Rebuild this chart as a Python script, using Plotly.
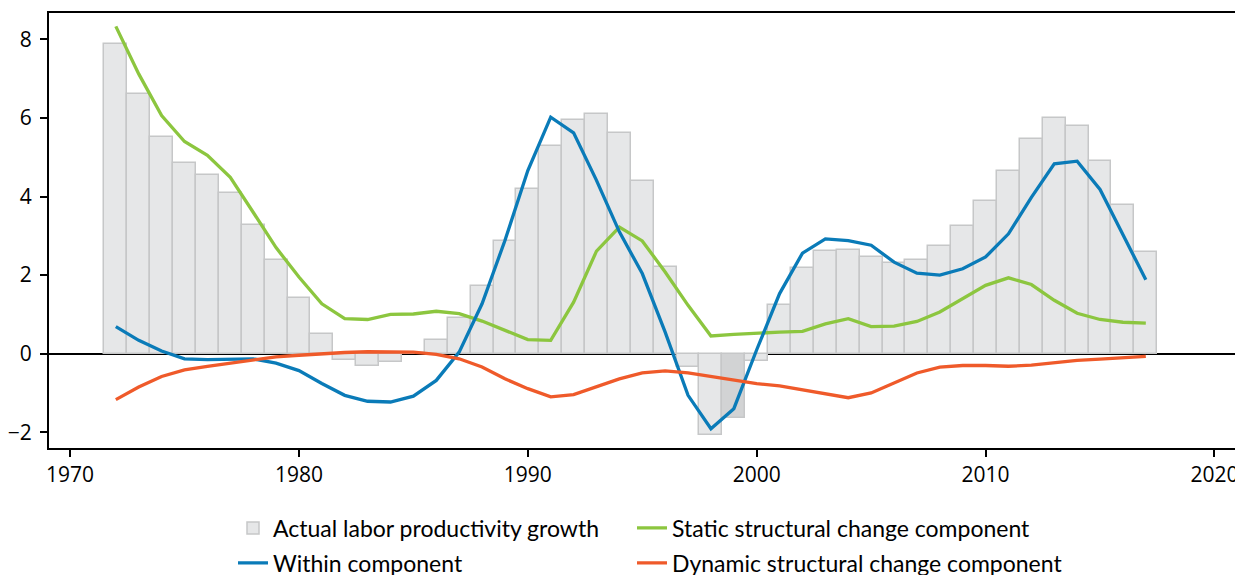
import plotly.graph_objects as go

years = list(range(1972, 2018))

actual = [7.87, 6.60, 5.51, 4.86, 4.56, 4.10, 3.27, 2.38, 1.43, 0.50,
          -0.16, -0.32, -0.20, 0.03, 0.36, 0.92, 1.72, 2.88, 4.18, 5.28,
          5.95, 6.09, 5.61, 4.40, 2.20, -0.33, -2.06, -1.63, -0.18, 1.25,
          2.19, 2.61, 2.65, 2.46, 2.30, 2.38, 2.74, 3.26, 3.89, 4.66,
          5.46, 6.00, 5.79, 4.90, 3.78, 2.59]

within = [0.69, 0.34, 0.07, -0.13, -0.15, -0.13, -0.13, -0.24, -0.43, -0.76,
          -1.06, -1.21, -1.23, -1.08, -0.68, 0.04, 1.27, 2.88, 4.66, 6.02,
          5.62, 4.41, 3.10, 2.04, 0.55, -1.06, -1.91, -1.40, 0.10, 1.53,
          2.56, 2.92, 2.88, 2.76, 2.33, 2.05, 2.00, 2.16, 2.46, 3.05,
          3.98, 4.83, 4.90, 4.18, 3.05, 1.88]

static = [8.33, 7.12, 6.06, 5.40, 5.05, 4.49, 3.60, 2.70, 1.95, 1.27,
          0.89, 0.87, 1.00, 1.01, 1.08, 1.02, 0.83, 0.59, 0.36, 0.34,
          1.31, 2.61, 3.22, 2.87, 2.08, 1.23, 0.45, 0.49, 0.53, 0.55,
          0.57, 0.76, 0.89, 0.69, 0.70, 0.82, 1.06, 1.40, 1.74, 1.93,
          1.76, 1.36, 1.03, 0.87, 0.80, 0.78]

dynamic = [-1.17, -0.85, -0.58, -0.41, -0.32, -0.24, -0.15, -0.08, -0.04, 0.00,
           0.03, 0.05, 0.05, 0.04, -0.02, -0.13, -0.34, -0.64, -0.89, -1.10,
           -1.04, -0.83, -0.64, -0.49, -0.44, -0.49, -0.58, -0.66, -0.76, -0.82,
           -0.92, -1.04, -1.12, -1.00, -0.75, -0.49, -0.34, -0.30, -0.30, -0.32,
           -0.29, -0.23, -0.17, -0.14, -0.10, -0.07]

highlight_year = 1999
x_ticks = [1970, 1980, 1990, 2000, 2010, 2020]
y_ticks = [-2, 0, 2, 4, 6, 8]

bar_colors = ["#d2d3d4" if y == highlight_year else "#e6e7e8" for y in years]

fig = go.Figure()
fig.add_trace(go.Bar(x=years, y=actual, name="Actual labor productivity growth",
                     marker=dict(color=bar_colors, line=dict(color="#c6c7c8", width=1.5)),
                     width=1.0, legend="legend"))
fig.add_trace(go.Scatter(x=years, y=static, mode="lines", name="Static structural change component",
                         line=dict(color="#8cc63f", width=3.3), legend="legend2"))
fig.add_trace(go.Scatter(x=years, y=within, mode="lines", name="Within component",
                         line=dict(color="#0a7bb8", width=3.3), legend="legend3"))
fig.add_trace(go.Scatter(x=years, y=dynamic, mode="lines", name="Dynamic structural change component",
                         line=dict(color="#ef5a2a", width=3.3), legend="legend4"))

axis_common = dict(showline=True, linecolor="black", linewidth=2, mirror=True,
                   ticks="outside", ticklen=7, tickwidth=1.5, tickcolor="black",
                   showgrid=False, automargin=False,
                   tickfont=dict(family="Open Sans", size=21, color="black"))

W, H = 1235, 567
L, T, PW, PH = 41, 5, 1187, 435

leg_font = dict(family="Lato", size=23, color="black")
def leg(px, py):
    # px, py: figure pixel position of the legend's left edge / vertical middle
    return dict(x=(px - L) / PW, y=(T + PH - py) / PH, xref="paper", yref="paper",
                xanchor="left", yanchor="middle",
                font=leg_font, bgcolor="rgba(0,0,0,0)", itemwidth=30, borderwidth=0)

fig.update_layout(
    width=W, height=H,
    margin=dict(l=L, r=W - L - PW, t=T, b=H - T - PH, autoexpand=False),
    plot_bgcolor="white", paper_bgcolor="white",
    bargap=0,
    showlegend=True,
    legend=leg(225, 520),
    legend2=leg(624, 520),
    legend3=leg(225, 555),
    legend4=leg(624, 555),
    xaxis=dict(range=[1969.08, 2020.94], tickvals=x_ticks, zeroline=False, **axis_common),
    yaxis=dict(range=[-2.4, 8.67], tickvals=y_ticks, zeroline=True, zerolinecolor="black",
               zerolinewidth=1.5, tickformat="d", **axis_common),
)
fig.update_yaxes(ticklabelstandoff=4)

fig.write_html("out.html")
